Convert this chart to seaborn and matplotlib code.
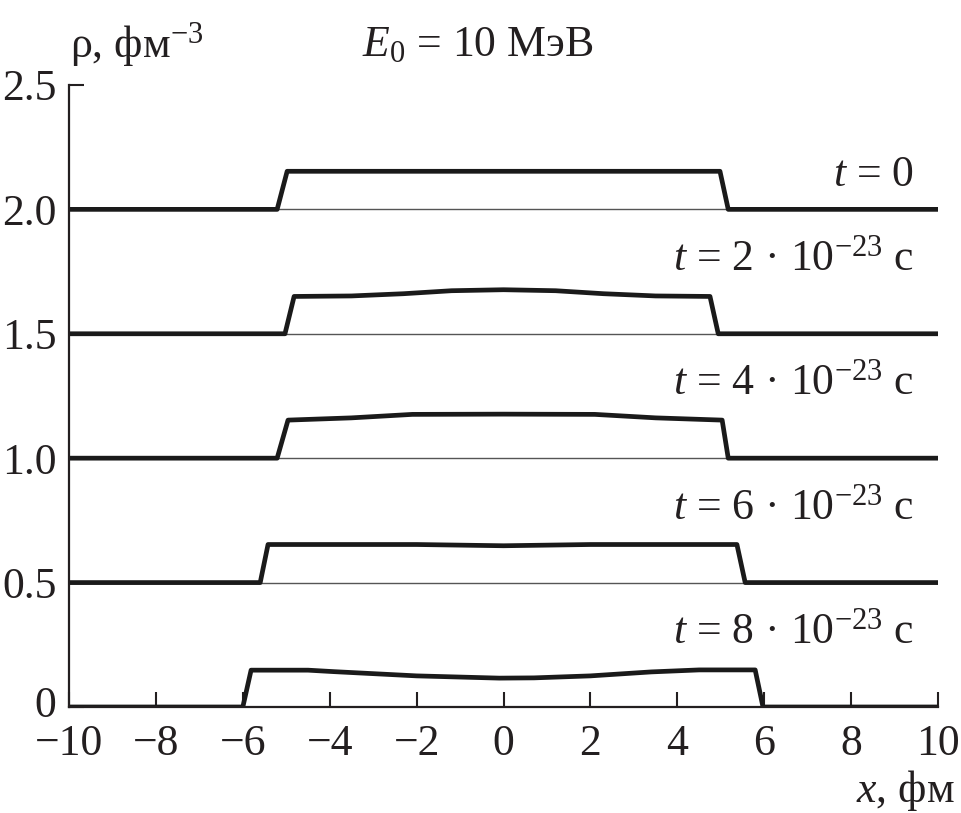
import numpy as np
import pandas as pd
import matplotlib
matplotlib.use("Agg")
import matplotlib.pyplot as plt
import matplotlib.transforms as mtransforms
import seaborn as sns

# ---- data ----
offsets = [2.0, 1.5, 1.0, 0.5, 0.0]
labels = [r"$t$ = 0",
          r"$t$ = 2 · 10$^{-23}$ с",
          r"$t$ = 4 · 10$^{-23}$ с",
          r"$t$ = 6 · 10$^{-23}$ с",
          r"$t$ = 8 · 10$^{-23}$ с"]

x_t0 = [-10, -5.21, -4.98, 4.98, 5.17, 10]
rho_t0 = [0, 0, 0.153, 0.153, 0, 0]

x_t2 = [-10, -5.03, -4.82, -3.5, -2.3, -1.2, 0.0, 1.2, 2.3, 3.5, 4.75, 4.94, 10]
rho_t2 = [0, 0, 0.150, 0.152, 0.161, 0.173, 0.177, 0.173, 0.161, 0.152, 0.150, 0, 0]

x_t4 = [-10, -5.21, -4.96, -3.5, -2.1, 0.0, 2.1, 3.5, 5.03, 5.17, 10]
rho_t4 = [0, 0, 0.153, 0.162, 0.176, 0.177, 0.176, 0.162, 0.153, 0, 0]

x_t6 = [-10, -5.60, -5.42, -2.0, 0.0, 2.0, 5.37, 5.56, 10]
rho_t6 = [0, 0, 0.153, 0.153, 0.148, 0.153, 0.153, 0, 0]

x_t8 = [-10, -6.0, -5.81, -4.5, -3.9, -2.0, -0.1, 0.7, 2.0, 3.4, 4.5, 5.79, 5.97, 10]
rho_t8 = [0, 0, 0.148, 0.148, 0.142, 0.125, 0.116, 0.117, 0.125, 0.141, 0.149, 0.149, 0, 0]

xs = [x_t0, x_t2, x_t4, x_t6, x_t8]
rhos = [rho_t0, rho_t2, rho_t4, rho_t6, rho_t8]

x_ticks = [-10, -8, -6, -4, -2, 0, 2, 4, 6, 8, 10]
y_ticks = [0, 0.5, 1.0, 1.5, 2.0, 2.5]
y_ticklabels = ["0", "0.5", "1.0", "1.5", "2.0", "2.5"]

# ---- style ----
sns.set_theme(style="ticks")
plt.rcParams['font.family'] = ['Liberation Serif', 'DejaVu Serif']
plt.rcParams['mathtext.fontset'] = 'custom'
plt.rcParams['mathtext.rm'] = 'Liberation Serif'
plt.rcParams['mathtext.it'] = 'Liberation Serif:italic'
plt.rcParams['mathtext.bf'] = 'Liberation Serif:bold'

ink = '#231f20'
FS = 31.5

fig = plt.figure(figsize=(9.61, 8.13), dpi=100)
ax = fig.add_axes([0.0718, 0.1304, 0.9044, 0.7651])

for off, xv, rv, lab in zip(offsets, xs, rhos, labels):
    # thin baseline
    sns.lineplot(x=[-10, 10], y=[off, off], ax=ax, color='#555555', lw=1.0,
                 sort=False, estimator=None)
    yv = np.array(rv) + off
    sns.lineplot(x=xv, y=yv, ax=ax, color='#1a1a1a', lw=3.4, sort=False,
                 estimator=None)
    ty = off + (0.137 if off == 2.0 else 0.30)
    ax.text(9.45, ty, lab, ha='right', va='center', fontsize=FS, color=ink)

ax.set_xlim(-10, 10)
ax.set_ylim(0, 2.5)
ax.set_xticks(x_ticks)
ax.set_yticks(y_ticks)
ax.set_yticklabels(y_ticklabels)
ax.tick_params(direction='in', length=11, width=1.5, labelsize=FS,
               colors=ink, pad=9)
ax.tick_params(axis='x', pad=12)
for s in ['top', 'right']:
    ax.spines[s].set_visible(False)
for s in ['left', 'bottom']:
    ax.spines[s].set_linewidth(1.6)
    ax.spines[s].set_color(ink)
ax.set_xlabel('')
ax.set_ylabel('')

# nudge the "0" y tick label slightly upward so it clears "−10"
lbl0 = ax.get_yticklabels()[0]
lbl0.set_transform(lbl0.get_transform() +
                   mtransforms.ScaledTranslation(0, 5 / 100, fig.dpi_scale_trans))

ax.text(-9.98, 2.66, "ρ, фм$^{-3}$", ha='left', va='center', fontsize=FS,
        color=ink, clip_on=False)
ax.text(-0.59, 2.66, r"$E_0$ = 10 МэВ", ha='center', va='center',
        fontsize=FS, color=ink, clip_on=False)
ax.text(10.39, -0.334, r"$x$, фм", ha='right', va='center', fontsize=FS,
        color=ink, clip_on=False)

fig.savefig("out.png", dpi=100)
